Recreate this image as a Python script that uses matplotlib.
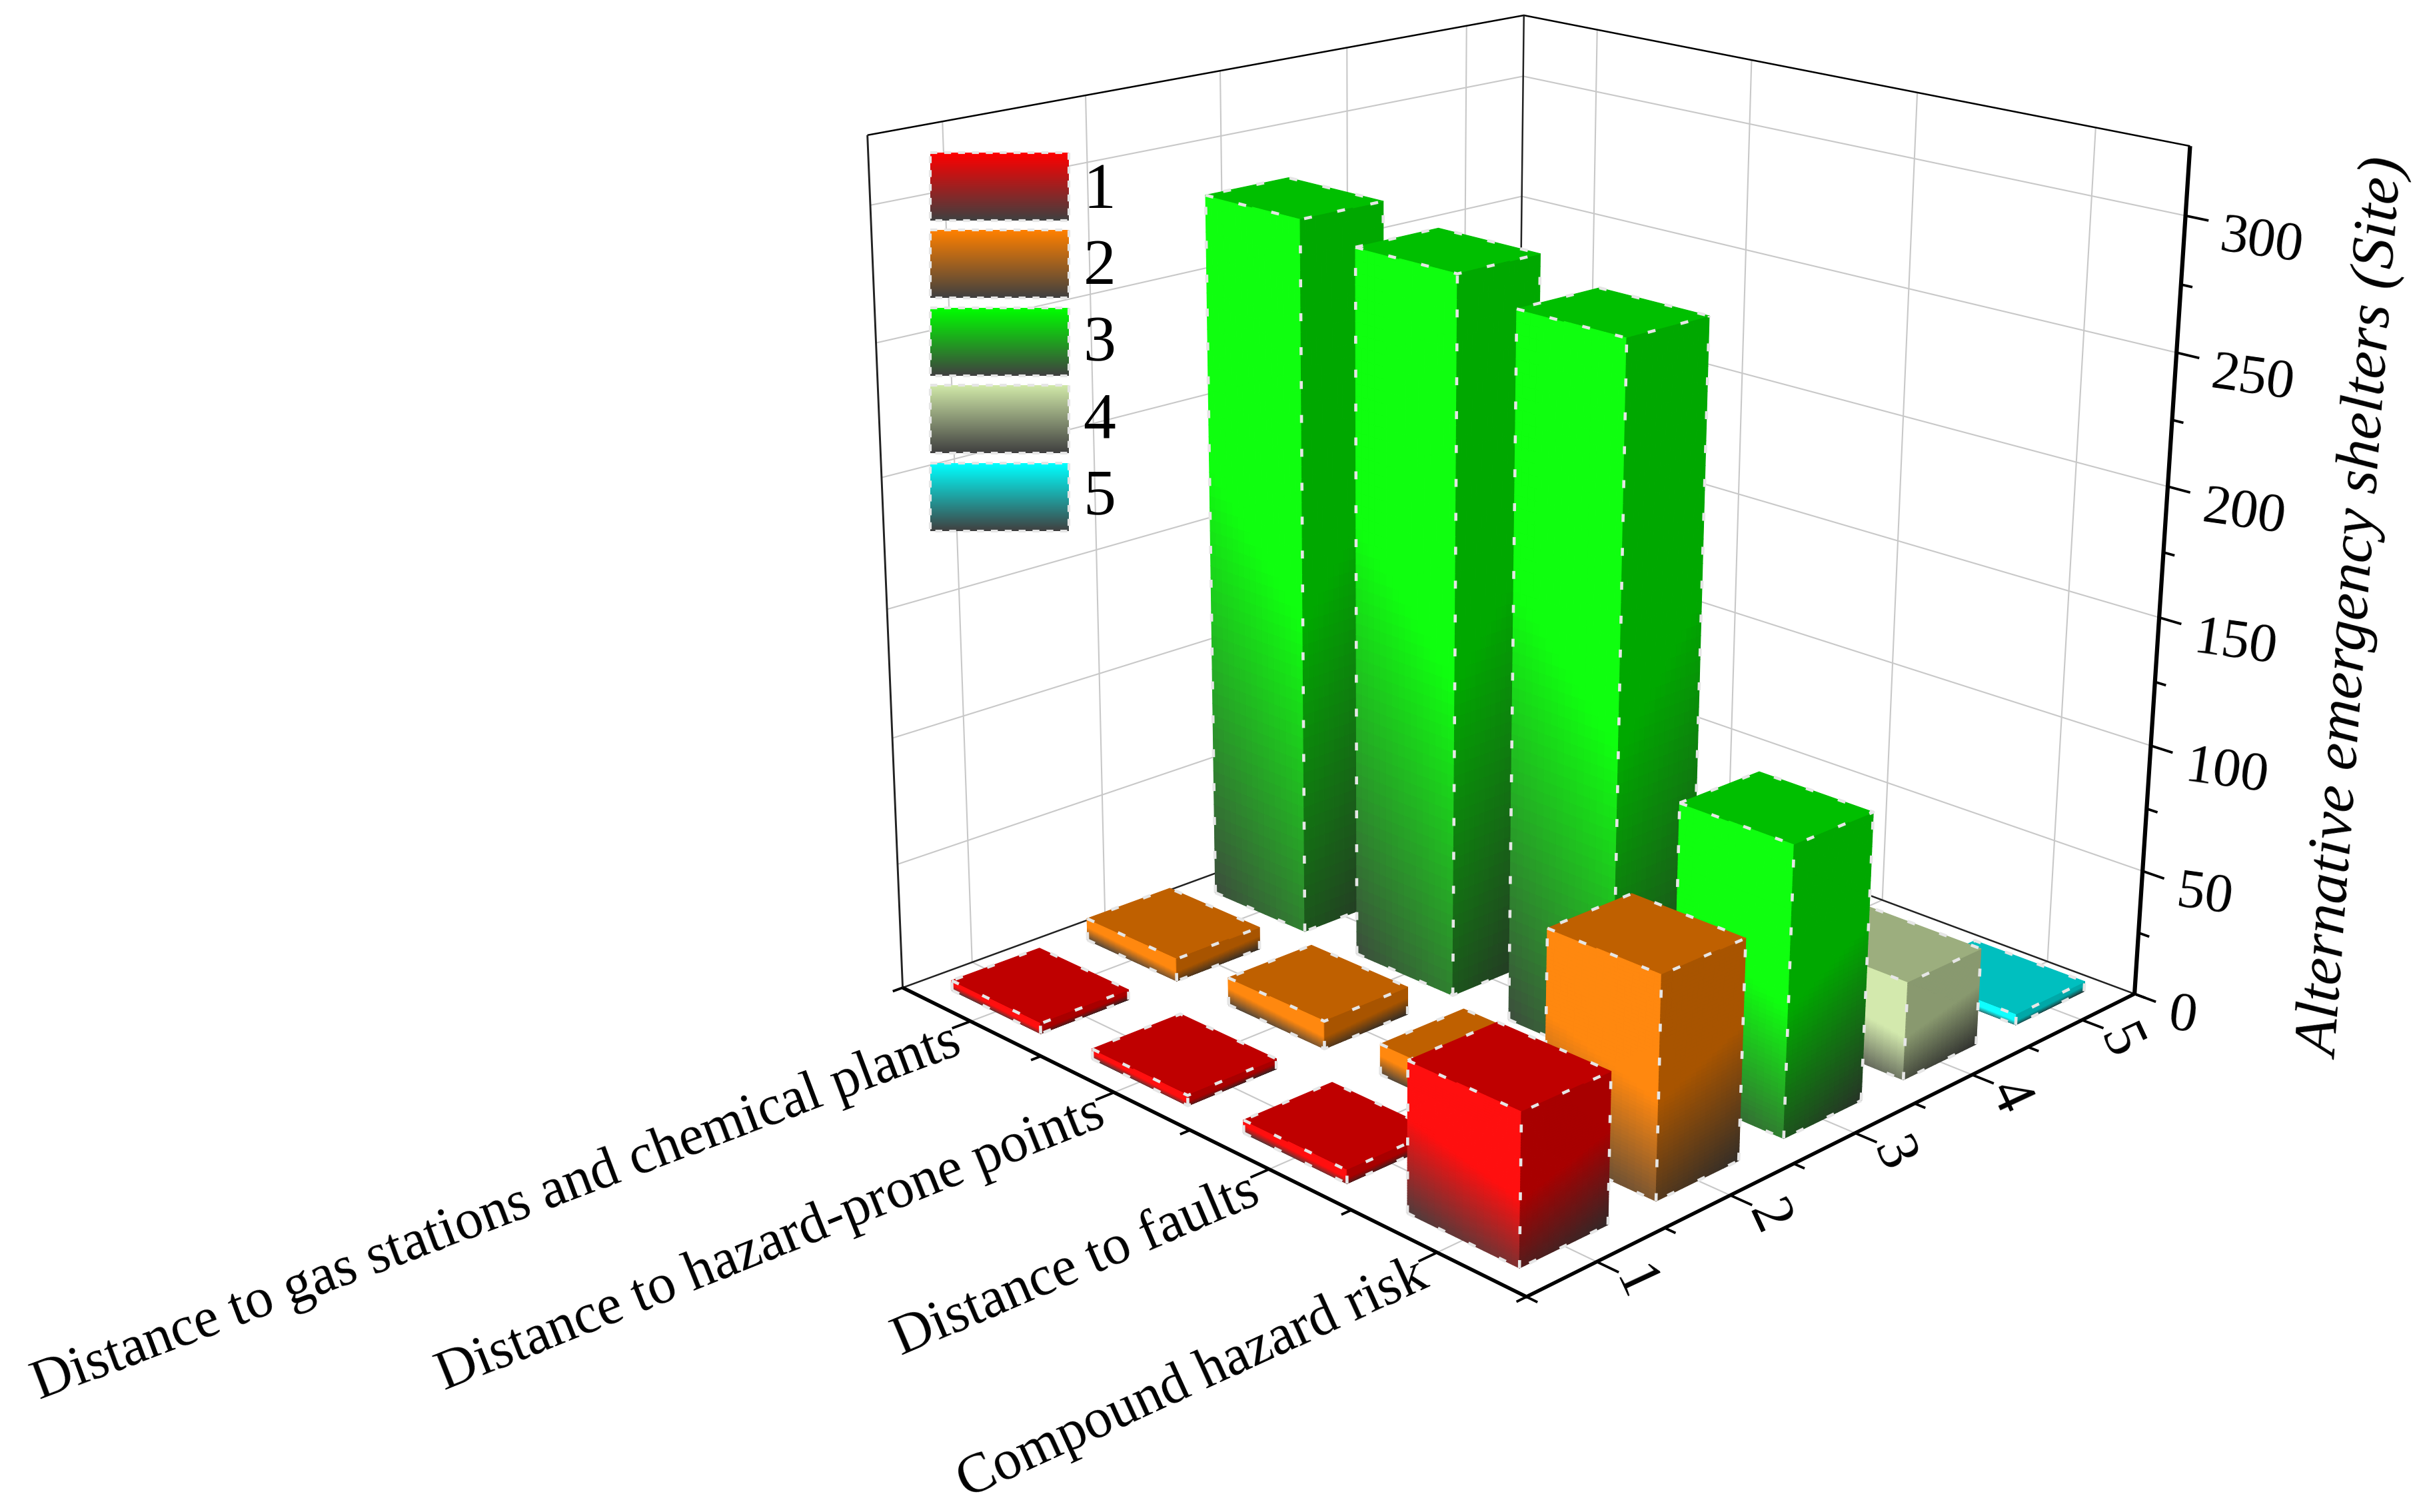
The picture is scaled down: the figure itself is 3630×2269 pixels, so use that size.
import numpy as np
import matplotlib
matplotlib.use("Agg")
import matplotlib.pyplot as plt
from matplotlib.patches import Rectangle
from mpl_toolkits.mplot3d.art3d import Poly3DCollection

plt.rcParams['font.family'] = ['Liberation Serif', 'DejaVu Serif']

W, H = 3630, 2269

categories = ['Distance to gas stations and chemical plants',
              'Distance to hazard-prone points',
              'Distance to faults',
              'Compound hazard risk']
levels = [1, 2, 3, 4, 5]
z_ticks = [0, 50, 100, 150, 200, 250, 300]
z_max = 325

gas_values = [4, 9, 283, 0, 0]
hazard_values = [4, 11, 278, 0, 0]
fault_values = [5, 12, 271, 0, 0]
compound_values = [56, 83, 110, 38, 4]
values = [gas_values, hazard_values, fault_values, compound_values]

level_colors = [(255, 0, 0), (255, 128, 0), (0, 255, 0), (208, 232, 168), (0, 255, 255)]
category_angles = [20.6, 21.9, 23.1, 24.6]
dark = np.array([64, 64, 64]) / 255

x_lo, x_hi = -0.5, 3.5
y_lo, y_hi = 0.5, 5.5

# where the box corners sit in the picture: used to fit the camera
cam_world = np.array([[x_lo, y_lo, 0], [x_hi, y_lo, 0], [x_hi, y_hi, 0],
                      [x_lo, y_lo, z_max], [x_hi, y_hi, z_max], [x_lo, y_hi, z_max],
                      [x_hi, y_hi, 150], [x_hi, y_hi, 300]], dtype=float)
cam_pixel = np.array([[1354, 1482], [2291, 1946], [3203, 1490],
                      [1302, 203], [3286, 219], [2287, 23],
                      [3241, 930], [3279, 322]], dtype=float)


def fit_camera(world, pixel):
    rows = []
    for (x, y, z), (u, v) in zip(world, pixel):
        z, u, v = z / 100, u / 1000, v / 1000
        rows.append([x, y, z, 1, 0, 0, 0, 0, -u * x, -u * y, -u * z, -u])
        rows.append([0, 0, 0, 0, x, y, z, 1, -v * x, -v * y, -v * z, -v])
    p = np.linalg.svd(np.array(rows))[2][-1].reshape(3, 4)
    return np.diag([1000, 1000, 1]) @ p @ np.diag([1, 1, 0.01, 1])


camera = fit_camera(cam_world, cam_pixel)


def to_pixel(x, y, z):
    u, v, w = camera @ np.array([x, y, z, 1.0])
    return u / w, v / w


fig = plt.figure(figsize=(W / 300, H / 300), dpi=300)
ax = fig.add_axes([0, 0, 1, 1], projection='3d', computed_zorder=False)
ax.set_axis_off()
ax.apply_aspect = lambda position=None: None


def get_proj():
    flip = np.array([[1, 0, 0], [0, -1, H], [0, 0, 1]], dtype=float)
    to_data = np.linalg.inv(ax.transData.get_affine().get_matrix()) @ flip
    p = to_data @ camera
    return np.vstack([p[0], p[1], [0, 0, 1, 0], p[2]])


ax.get_proj = get_proj


def line(xs, ys, zs, color='black', lw=0.6, zorder=1, **kw):
    ax.plot(xs, ys, zs, color=color, lw=lw, zorder=zorder, solid_capstyle='butt', **kw)


# grid on the two walls and the floor
grid = '#C8C8C8'
for z in z_ticks[1:]:
    line([x_lo, x_lo, x_hi], [y_lo, y_hi, y_hi], [z, z, z], grid, 0.5)
for y in levels:
    line([x_lo, x_lo], [y, y], [0, z_max], grid, 0.5)
    line([x_lo, x_hi], [y, y], [0, 0], grid, 0.5)
for x in range(len(categories)):
    line([x, x], [y_hi, y_hi], [0, z_max], grid, 0.5)
    line([x, x], [y_lo, y_hi], [0, 0], grid, 0.5)

# box frame
line([x_lo, x_lo, x_hi], [y_lo, y_hi, y_hi], [z_max, z_max, z_max], 'black', 0.6, 2)
line([x_lo, x_lo], [y_lo, y_lo], [0, z_max], '#222222', 0.7, 2)
line([x_lo, x_lo], [y_hi, y_hi], [0, z_max], '#222222', 0.6, 2)
line([x_lo, x_lo, x_hi], [y_lo, y_hi, y_hi], [0, 0, 0], '#222222', 0.6, 2)

# axis lines and ticks
line([x_lo, x_hi, x_hi], [y_lo, y_lo, y_hi], [0, 0, 0], 'black', 1.3, 3)
line([x_hi, x_hi], [y_hi, y_hi], [0, z_max], 'black', 1.5, 3)
for i in np.arange(x_lo, x_hi + 0.1, 0.5):
    tick = 0.13 if i == int(i) else 0.07
    line([i, i], [y_lo, y_lo - tick], [0, 0], 'black', 0.9, 3)
for i in np.arange(y_lo, y_hi + 0.1, 0.5):
    tick = 0.12 if i == int(i) else 0.06
    line([x_hi, x_hi + tick], [i, i], [0, 0], 'black', 0.9, 3)
for z in np.arange(0, z_max, 25):
    tick = 0.12 if z % 50 == 0 else 0.06
    line([x_hi, x_hi + tick], [y_hi, y_hi], [z, z], 'black', 0.9, 3)


def shade(t, s, color, k, scale):
    f = np.clip(0.2 + 1.5 * (t + k * (s - 0.5)), 0, 1)
    rgb = dark + (color - dark) * f
    return np.clip(rgb * scale, 0, 1)


def draw_bar(x, y, h, color, order, width=0.64):
    color = np.array(color) / 255
    x0, x1 = x - width / 2, x + width / 2
    y0, y1 = y - width / 2, y + width / 2
    verts, cols = [], []
    ts = np.linspace(0, 1, 61)
    ss = np.linspace(0, 1, 17)
    bright = color + (1 - color) * 0.06
    for a in range(len(ts) - 1):
        for b in range(len(ss) - 1):
            t = (ts[a] + ts[a + 1]) / 2
            s = (ss[b] + ss[b + 1]) / 2
            z0, z1 = ts[a] * h, ts[a + 1] * h
            # face towards -y, seen on the left
            xa, xb = x0 + ss[b] * width, x0 + ss[b + 1] * width
            verts.append([(xa, y0, z0), (xb, y0, z0), (xb, y0, z1), (xa, y0, z1)])
            cols.append(shade(t, s, bright, 0.18, 1.0))
            # face towards +x, seen on the right
            ya, yb = y0 + ss[b] * width, y0 + ss[b + 1] * width
            verts.append([(x1, ya, z0), (x1, yb, z0), (x1, yb, z1), (x1, ya, z1)])
            cols.append(shade(t, s, color, -0.18, 0.66))
    verts.append([(x0, y0, h), (x1, y0, h), (x1, y1, h), (x0, y1, h)])
    cols.append(color * 0.75)
    poly = Poly3DCollection(verts, facecolors=cols, edgecolors=cols, linewidths=0.3, zorder=order)
    ax.add_collection3d(poly)
    edge = dict(color='#E6E6E6', lw=1.1, zorder=order + 0.5, ls=(0, (2.6, 8.5)), dash_capstyle='butt')
    ax.plot([x0, x1, x1, x0, x0], [y0, y0, y1, y1, y0], [h] * 5, **edge)
    ax.plot([x0, x1, x1], [y0, y0, y1], [0, 0, 0], **edge)
    for px, py in [(x0, y0), (x1, y0), (x1, y1)]:
        ax.plot([px, px], [py, py], [0, h], **edge)


order = 10
for i, row in enumerate(values):
    for j in reversed(range(len(levels))):
        if row[j] > 0:
            draw_bar(i, levels[j], row[j], level_colors[j], order)
        order += 1

# legend and text sit on a flat overlay in picture coordinates
over = fig.add_axes([0, 0, 1, 1], zorder=5)
over.patch.set_alpha(0)
over.set_axis_off()
legend_top = [229, 345, 462, 578, 695]
for k, (lev, top, c) in enumerate(zip(levels, legend_top, level_colors)):
    top_rgb = np.array(c) / 255
    grad = np.linspace(0, 1, 64)[:, None, None]
    img = top_rgb[None, None, :] * (1 - grad) + dark[None, None, :] * grad
    over.imshow(img, extent=(1396, 1604, top + 102, top), aspect='auto', interpolation='bilinear')
    over.add_patch(Rectangle((1396, top), 208, 102, fill=False, ec='#E6E6E6', lw=1.0,
                             ls=(0, (2.5, 2.5))))
    over.text(1650, 288 + 115 * k, str(lev), fontsize=23.5, ha='center', va='center')
over.set_xlim(0, W)
over.set_ylim(H, 0)

# tick labels
for i, name in enumerate(categories):
    px, py = to_pixel(i, y_lo - 0.13, 0)
    over.text(px + 10, py + 18, name, fontsize=20.2, rotation=category_angles[i],
              rotation_mode='anchor', ha='right', va='center')
for lev in levels:
    px, py = to_pixel(x_hi, lev, 0)
    over.text(px + 55, py + 33, str(lev), fontsize=21, rotation=-65, rotation_mode='anchor',
              ha='center', va='center')
for z in z_ticks:
    px, py = to_pixel(x_hi, y_hi, z)
    over.text(px + 52, py + 32, str(z), fontsize=20, rotation=-8, rotation_mode='anchor',
              ha='left', va='center')
over.text(3535, 914, 'Alternative emergency shelters (Site)', fontsize=22, style='italic',
          rotation=85.8, rotation_mode='anchor', ha='center', va='center')

fig.savefig('out.png', dpi=300)
